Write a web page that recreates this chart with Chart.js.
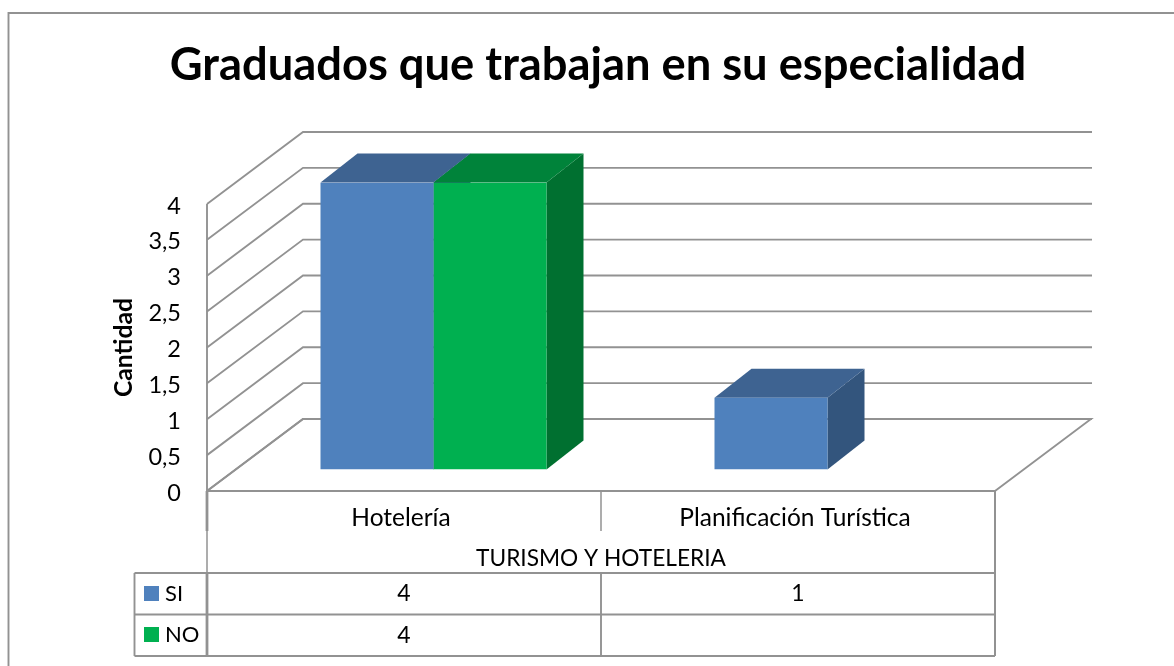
<!DOCTYPE html>
<html lang="es">
<head>
<meta charset="utf-8">
<title>Graduados que trabajan en su especialidad</title>
<style>html,body{margin:0;padding:0;background:#fff;overflow:hidden}canvas{display:block}</style>
<script src="https://cdn.jsdelivr.net/npm/chart.js@4"></script>
</head>
<body>
<div style="width:1174px;height:666px"><canvas id="c" width="1174" height="666"></canvas></div>
<script>
const titleText = 'Graduados que trabajan en su especialidad';
const yAxisTitle = 'Cantidad';
const groupLabel = 'TURISMO Y HOTELERIA';
const categories = ['Hotelería', 'Planificación Turística'];
const seriesNames = ['SI', 'NO'];
const siValues = [4, 1];
const noValues = [4, null];
const FONT = 'Lato, Carlito, sans-serif';
const GRID = '#929292';
const LW = 1.9;
const DEPTH = {backX: 96, backY: 72, barX: 29.5, barY: 21.5, sideX: 37, sideY: 29};
const SHADES = [
  {front: '#4F81BD', top: '#3E6391', side: '#33557D'},
  {front: '#00B050', top: '#00833A', side: '#007030'}
];

function line(ctx, pts, w, color) {
  ctx.save();
  ctx.beginPath();
  pts.forEach((p, i) => i ? ctx.lineTo(p[0], p[1]) : ctx.moveTo(p[0], p[1]));
  ctx.lineWidth = w; ctx.strokeStyle = color || GRID; ctx.lineJoin = 'miter';
  ctx.stroke();
  ctx.restore();
}
function poly(ctx, pts, color) {
  ctx.beginPath();
  pts.forEach((p, i) => i ? ctx.lineTo(p[0], p[1]) : ctx.moveTo(p[0], p[1]));
  ctx.closePath(); ctx.fillStyle = color; ctx.fill();
}

const walls3d = {
  id: 'walls3d',
  beforeDatasetsDraw(chart) {
    const {ctx, chartArea: a, scales: {y}} = chart;
    const bx = DEPTH.backX, by = DEPTH.backY;
    line(ctx, [[8.5, 666], [8.5, 13], [1174, 13]], LW);
    y.ticks.forEach(t => {
      const py = y.getPixelForValue(t.value);
      line(ctx, [[a.left, py], [a.left + bx, py - by], [a.left + bx + 789, py - by]], LW);
    });
    line(ctx, [[a.left, y.getPixelForValue(4)], [a.left, y.getPixelForValue(0)]], LW);
    const fy = y.getPixelForValue(0);
    line(ctx, [[a.left, fy], [a.left + bx, fy - by], [a.right + bx, fy - by], [a.right, fy]], LW);
    ctx.save();
    ctx.translate(DEPTH.barX, -DEPTH.barY);
    chart.data.datasets.forEach((ds, di) => {
      chart.getDatasetMeta(di).data.forEach((el, i) => {
        if (ds.data[i] == null) return;
        const l = el.x - el.width / 2, r = el.x + el.width / 2, t = el.y, b = el.base;
        const dx = DEPTH.sideX, dy = DEPTH.sideY;
        poly(ctx, [[r, t], [r + dx, t - dy], [r + dx, b - dy], [r, b]], SHADES[di].side);
        poly(ctx, [[l, t], [l + dx, t - dy], [r + dx, t - dy], [r, t]], SHADES[di].top);
      });
    });
    ctx.restore();
    ctx.save();
    ctx.translate(DEPTH.barX, -DEPTH.barY);
  },
  afterDatasetsDraw(chart) {
    chart.ctx.restore();
  }
};

const dataTable = {
  id: 'dataTable',
  afterDraw(chart) {
    const {ctx, chartArea: a, scales: {x}} = chart;
    const L = 134.5, T = 573, M = 614.5, B = 656, top = a.bottom;
    const mid = (a.left + a.right) / 2;
    line(ctx, [[a.left, top], [a.right, top]], 2.2);
    line(ctx, [[a.right, top], [a.right, B]], 2);
    line(ctx, [[a.left, top], [a.left, 531]], 2.8);
    line(ctx, [[a.left, 531], [a.left, T]], 1.5);
    line(ctx, [[a.left, T], [a.left, B]], 2.8);
    line(ctx, [[mid, top], [mid, 531]], 1.5);
    line(ctx, [[mid, T], [mid, B]], LW);
    line(ctx, [[L, T], [a.right, T]], LW);
    line(ctx, [[L, M], [a.right, M]], LW);
    line(ctx, [[L, B], [a.right, B]], 2);
    line(ctx, [[L, T], [L, B]], LW);

    ctx.save();
    ctx.fillStyle = '#000';
    ctx.font = '22.7px ' + FONT;
    ctx.textBaseline = 'middle';
    ctx.textAlign = 'center';
    ctx.fillText(groupLabel, mid, 559);
    [T, M].forEach((rowTop, r) => {
      const cy = (rowTop + (r ? B : M)) / 2;
      ctx.fillStyle = SHADES[r].front;
      ctx.fillRect(144, Math.round(cy - 8), 15, 15);
      ctx.fillStyle = '#000';
      ctx.textAlign = 'left';
      ctx.font = '22px ' + FONT;
      ctx.fillText(seriesNames[r], 165, cy);
      ctx.textAlign = 'center';
      ctx.font = '23px ' + FONT;
      const vals = r ? noValues : siValues;
      vals.forEach((v, i) => {
        if (v != null) ctx.fillText(String(v), x.getPixelForValue(i), cy);
      });
    });
    ctx.restore();
  }
};

new Chart(document.getElementById('c'), {
  type: 'bar',
  data: {
    labels: categories,
    datasets: [
      {label: seriesNames[0], data: siValues, backgroundColor: SHADES[0].front},
      {label: seriesNames[1], data: noValues, backgroundColor: SHADES[1].front}
    ]
  },
  plugins: [walls3d, dataTable],
  options: {
    responsive: false,
    animation: false,
    layout: {padding: {left: 22, right: 0, top: 0, bottom: 0}},
    datasets: {bar: {categoryPercentage: 0.5736, barPercentage: 1, borderWidth: 0}},
    plugins: {
      legend: {display: false},
      tooltip: {enabled: false},
      title: {
        display: true,
        text: titleText,
        color: '#000',
        font: {family: FONT, size: 45.3, weight: 'bold', lineHeight: 1.2},
        padding: {top: 38.6, bottom: 111}
      }
    },
    scales: {
      x: {
        grid: {display: false},
        border: {display: false},
        ticks: {color: '#000', font: {family: FONT, size: 24.5}, padding: 4, labelOffset: -3, maxRotation: 0, autoSkip: false},
        afterFit(s) { s.height = 175; }
      },
      y: {
        min: 0, max: 4,
        grid: {display: false},
        border: {display: false},
        ticks: {
          stepSize: 0.5,
          color: '#000',
          padding: 18,
          labelOffset: 2,
          font: {family: FONT, size: 23.5},
          callback: v => String(v).replace('.', ',')
        },
        title: {
          display: true,
          text: yAxisTitle,
          color: '#000',
          font: {family: FONT, size: 24.7, weight: 'bold'},
          padding: {top: 87, bottom: 0}
        },
        afterFit(s) { s.width = 185; }
      },
      pad: {
        position: 'right',
        grid: {display: false},
        border: {display: false},
        ticks: {display: false},
        afterFit(s) { s.width = 179; }
      }
    }
  }
});
</script>
</body>
</html>
